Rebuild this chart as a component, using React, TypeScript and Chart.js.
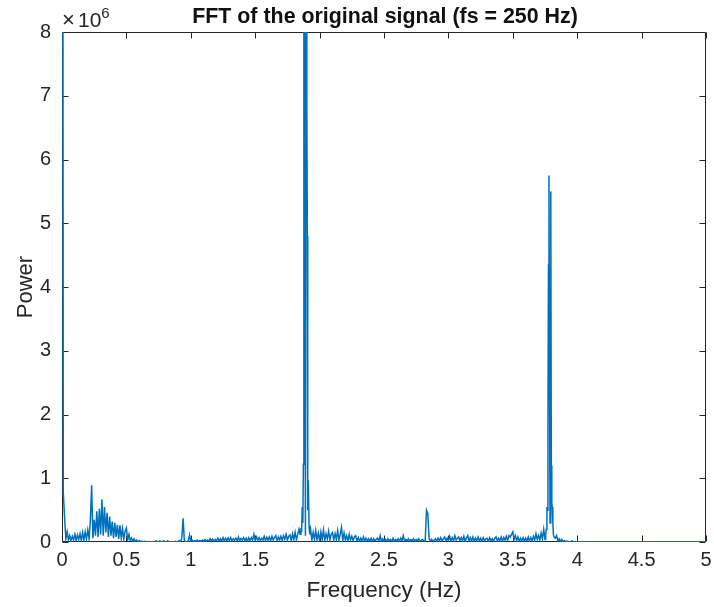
import { useEffect, useRef } from "react";
import { Chart, registerables } from "chart.js";

Chart.register(...registerables);

// Power spectrum (units of 1e6), sampled every 0.01 Hz
const power0to1: number[] = [
  30, 0.78, 0.38, 0.05, 0.16, 0.03, 0.10, 0.02, 0.09, 0.03,
  0.12, 0.02, 0.11, 0.04, 0.13, 0.02, 0.15, 0.03, 0.16, 0.05,
  0.19, 0.05, 0.33, 0.89, 0.06, 0.35, 0.10, 0.48, 0.08, 0.52,
  0.12, 0.67, 0.10, 0.55, 0.15, 0.46, 0.08, 0.40, 0.10, 0.32,
  0.06, 0.30, 0.08, 0.27, 0.05, 0.26, 0.06, 0.21, 0.04, 0.17,
  0.22, 0.03, 0.12, 0.02, 0.06, 0.01, 0.05, 0.01, 0.03, 0.005,
  0.02, 0.004, 0.015, 0.003, 0.01, 0.003, 0.008, 0.002, 0.006, 0.002,
  0.005, 0.002, 0.004, 0.02, 0.002, 0.004, 0.02, 0.002, 0.005, 0.02,
  0.002, 0.004, 0.02, 0.002, 0.005, 0.003, 0.002, 0.006, 0.01, 0.003,
  0.01, 0.02, 0.005, 0.06, 0.37, 0.02, 0.01, 0.005, 0.015, 0.11,
];
const power1to2: number[] = [
  0.01, 0.03, 0.005, 0.02, 0.01, 0.03, 0.005, 0.025, 0.01, 0.03,
  0.01, 0.04, 0.015, 0.03, 0.01, 0.05, 0.02, 0.045, 0.01, 0.04,
  0.02, 0.06, 0.01, 0.05, 0.02, 0.07, 0.015, 0.06, 0.02, 0.065,
  0.02, 0.07, 0.01, 0.05, 0.03, 0.06, 0.02, 0.08, 0.01, 0.055,
  0.03, 0.07, 0.02, 0.06, 0.01, 0.065, 0.02, 0.07, 0.03, 0.12,
  0.02, 0.08, 0.03, 0.07, 0.02, 0.06, 0.03, 0.09, 0.02, 0.075,
  0.03, 0.08, 0.02, 0.09, 0.03, 0.07, 0.10, 0.02, 0.08, 0.03,
  0.09, 0.02, 0.10, 0.04, 0.12, 0.03, 0.09, 0.11, 0.02, 0.13,
  0.04, 0.15, 0.03, 0.12, 0.20, 0.12, 0.20, 0.50, 1.2, 0.3,
  0.3, 0.2, 0.15, 0.2, 0.03, 0.15, 0.04, 0.18, 0.03, 0.14,
];
const power2to3: number[] = [
  0.03, 0.16, 0.04, 0.19, 0.02, 0.13, 0.05, 0.17, 0.03, 0.12,
  0.15, 0.03, 0.13, 0.04, 0.18, 0.03, 0.12, 0.23, 0.02, 0.14,
  0.03, 0.10, 0.02, 0.12, 0.03, 0.09, 0.02, 0.08, 0.10, 0.02,
  0.07, 0.01, 0.06, 0.02, 0.08, 0.01, 0.06, 0.02, 0.05, 0.01,
  0.06, 0.01, 0.05, 0.02, 0.04, 0.06, 0.01, 0.10, 0.01, 0.05,
  0.01, 0.04, 0.01, 0.05, 0.02, 0.04, 0.01, 0.06, 0.01, 0.04,
  0.02, 0.05, 0.01, 0.06, 0.02, 0.10, 0.01, 0.04, 0.02, 0.05,
  0.01, 0.04, 0.02, 0.05, 0.01, 0.04, 0.02, 0.05, 0.01, 0.03,
  0.04, 0.01, 0.03, 0.50, 0.45, 0.06, 0.01, 0.04, 0.01, 0.03,
  0.05, 0.01, 0.06, 0.02, 0.07, 0.01, 0.05, 0.08, 0.02, 0.06,
];
const power3to4: number[] = [
  0.02, 0.09, 0.01, 0.07, 0.02, 0.10, 0.03, 0.06, 0.08, 0.02,
  0.07, 0.02, 0.09, 0.01, 0.06, 0.10, 0.02, 0.07, 0.01, 0.08,
  0.02, 0.06, 0.01, 0.08, 0.02, 0.06, 0.01, 0.07, 0.02, 0.05,
  0.06, 0.01, 0.07, 0.02, 0.05, 0.01, 0.06, 0.08, 0.02, 0.06,
  0.02, 0.08, 0.01, 0.07, 0.03, 0.09, 0.02, 0.10, 0.08, 0.12,
  0.16, 0.04, 0.10, 0.02, 0.08, 0.01, 0.06, 0.02, 0.07, 0.01,
  0.06, 0.02, 0.08, 0.01, 0.07, 0.02, 0.09, 0.03, 0.13, 0.04,
  0.10, 0.03, 0.14, 0.05, 0.20, 0.04, 0.12, 0.30, 1.9, 5.5,
  1.2, 0.3, 0.15, 0.08, 0.10, 0.02, 0.05, 0.01, 0.04, 0.01,
  0.02, 0.005, 0.015, 0.003, 0.004, 0.002, 0.02, 0.003, 0.004, 0.003,
];
const power4to5: number[] = [
  0.004, 0.003, 0.002, 0.003, 0.004, 0.002, 0.003, 0.002, 0.003, 0.002,
  0.003, 0.002, 0.004, 0.002, 0.003, 0.002, 0.002, 0.003, 0.002, 0.003,
  0.002, 0.003, 0.002, 0.002, 0.003, 0.002, 0.003, 0.002, 0.002, 0.003,
  0.002, 0.002, 0.003, 0.002, 0.003, 0.002, 0.002, 0.003, 0.002, 0.002,
  0.003, 0.002, 0.002, 0.003, 0.002, 0.002, 0.003, 0.002, 0.002, 0.003,
  0.002, 0.003, 0.002, 0.002, 0.002, 0.003, 0.002, 0.002, 0.003, 0.002,
  0.002, 0.002, 0.003, 0.002, 0.002, 0.003, 0.002, 0.002, 0.002, 0.003,
  0.002, 0.003, 0.002, 0.002, 0.003, 0.002, 0.002, 0.002, 0.003, 0.002,
  0.002, 0.002, 0.003, 0.002, 0.002, 0.003, 0.002, 0.002, 0.002, 0.002,
  0.003, 0.002, 0.002, 0.002, 0.003, 0.002, 0.002, 0.002, 0.002, 0.003,
];
const powerAt5: number[] = [0.002];

// Finely resolved peaks (Hz, power in 1e6)
const peak19Freq: number[] = [1.848, 1.855, 1.86, 1.865, 1.87, 1.874, 1.878, 1.882, 1.89, 1.898, 1.901, 1.905, 1.908, 1.912, 1.918, 1.924, 1.93];
const peak19Power: number[] = [0.12, 0.22, 0.15, 0.55, 0.3, 1.22, 12, 9.5, 0.1, 14, 6.8, 4.8, 0.5, 0.97, 0.25, 0.12, 0.2];
const peak38Freq: number[] = [3.755, 3.76, 3.765, 3.77, 3.773, 3.777, 3.781, 3.785, 3.789, 3.795, 3.799, 3.803, 3.807, 3.811, 3.815, 3.82, 3.83, 3.84];
const peak38Power: number[] = [0.1, 0.2, 0.55, 0.5, 1.9, 4.35, 5.75, 2.5, 0.3, 5.5, 1.2, 0.6, 0.55, 0.3, 0.12, 0.08, 0.06, 0.1];

const xTickStep = 0.5;
const yTickStep = 1;

const TITLE = "FFT of the original signal (fs = 250 Hz)";
const X_LABEL = "Frequency (Hz)";
const Y_LABEL = "Power";

const FONT = '"Liberation Sans", Arial, Helvetica, sans-serif';
const AXIS_COLOR = "#262626";

function buildPoints() {
  const base = [...power0to1, ...power1to2, ...power2to3, ...power3to4, ...power4to5, ...powerAt5];
  const ranges = [
    [peak19Freq[0], peak19Freq[peak19Freq.length - 1]],
    [peak38Freq[0], peak38Freq[peak38Freq.length - 1]],
  ];
  const pts: { x: number; y: number }[] = [];
  base.forEach((v, i) => {
    const f = i / 100;
    if (ranges.some(([a, b]) => f >= a - 0.004 && f <= b + 0.004)) return;
    pts.push({ x: f, y: v });
  });
  peak19Freq.forEach((f, i) => pts.push({ x: f, y: peak19Power[i] }));
  peak38Freq.forEach((f, i) => pts.push({ x: f, y: peak38Power[i] }));
  pts.sort((a, b) => a.x - b.x);
  return pts;
}

const matlabAxes = {
  id: "matlabAxes",
  beforeDatasetsDraw(chart: any) {
    const { ctx, chartArea: a, scales } = chart;
    const xs = scales.x;
    const ys = scales.y;
    const L = Math.round(a.left) + 0.5;
    const R = Math.round(a.right) - 0.5;
    const T = Math.round(a.top) + 0.5;
    const B = Math.round(a.bottom) - 0.5;
    const TL = 6;
    ctx.save();
    ctx.strokeStyle = AXIS_COLOR;
    ctx.lineWidth = 1;
    ctx.beginPath();
    ctx.rect(L, T, R - L, B - T);
    xs.ticks.forEach((t: any) => {
      const px = Math.round(xs.getPixelForValue(t.value)) + 0.5;
      ctx.moveTo(px, B);
      ctx.lineTo(px, B - TL);
      ctx.moveTo(px, T);
      ctx.lineTo(px, T + TL);
    });
    ys.ticks.forEach((t: any) => {
      const py = Math.round(ys.getPixelForValue(t.value)) + 0.5;
      ctx.moveTo(L, py);
      ctx.lineTo(L + TL, py);
      ctx.moveTo(R, py);
      ctx.lineTo(R - TL, py);
    });
    ctx.stroke();
    ctx.restore();
  },
  afterDraw(chart: any) {
    const { ctx, chartArea: a } = chart;
    ctx.save();
    ctx.fillStyle = "#111111";
    ctx.font = `bold 21.4px ${FONT}`;
    ctx.textAlign = "center";
    ctx.textBaseline = "alphabetic";
    ctx.fillText(TITLE, (a.left + a.right) / 2 + 1, 23);
    ctx.fillStyle = AXIS_COLOR;
    ctx.textAlign = "left";
    ctx.font = `22px ${FONT}`;
    ctx.fillText("\u00d7", a.left, 27);
    ctx.font = `21px ${FONT}`;
    ctx.fillText("10", a.left + 16, 27);
    const w = ctx.measureText("10").width;
    ctx.font = `15px ${FONT}`;
    ctx.fillText("6", a.left + 16 + w, 18);
    ctx.restore();
  },
};

export default function App() {
  const ref = useRef<HTMLCanvasElement>(null);
  useEffect(() => {
    if (!ref.current) return;
    const chart = new Chart(ref.current, {
      type: "line",
      data: {
        datasets: [
          {
            data: buildPoints(),
            borderColor: "#0072BD",
            borderWidth: 1.5,
            pointRadius: 0,
            tension: 0,
            fill: false,
            clip: 0 as any,
          },
        ],
      },
      options: {
        responsive: false,
        animation: false,
        devicePixelRatio: 1,
        layout: { padding: { left: 0, right: 8, top: 32, bottom: 0 } },
        plugins: { legend: { display: false }, tooltip: { enabled: false }, title: { display: false } },
        scales: {
          x: {
            type: "linear",
            min: 0,
            max: 5,
            grid: { display: false, drawTicks: false },
            border: { display: false },
            ticks: {
              stepSize: xTickStep,
              padding: 6,
              maxRotation: 0,
              autoSkip: false,
              color: AXIS_COLOR,
              font: { family: FONT, size: 20 },
              callback: (v: any) => String(Math.round(Number(v) * 10) / 10),
            },
            title: {
              display: true,
              text: X_LABEL,
              color: AXIS_COLOR,
              font: { family: FONT, size: 22.5 },
              padding: { top: 0, bottom: 3 },
            },
            afterFit: (s: any) => {
              s.height = 65;
              s.paddingLeft = 0;
              s.paddingRight = 0;
            },
          },
          y: {
            type: "linear",
            min: 0,
            max: 8,
            grid: { display: false, drawTicks: false },
            border: { display: false },
            ticks: {
              stepSize: yTickStep,
              padding: 11,
              color: AXIS_COLOR,
              font: { family: FONT, size: 20 },
            },
            title: {
              display: true,
              text: Y_LABEL,
              color: AXIS_COLOR,
              font: { family: FONT, size: 22 },
              padding: { top: 13, bottom: 0 },
            },
            afterFit: (s: any) => {
              s.width = 62;
              s.paddingTop = 0;
              s.paddingBottom = 0;
            },
          },
        },
      },
      plugins: [matlabAxes],
    });
    return () => chart.destroy();
  }, []);
  return (
    <div style={{ position: "fixed", left: 0, top: 0, width: 714, height: 607, background: "#fff" }}>
      <canvas ref={ref} width={714} height={607} />
    </div>
  );
}
